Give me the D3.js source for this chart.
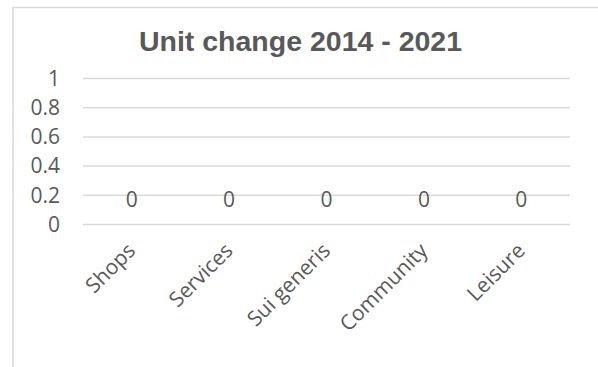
<!DOCTYPE html>
<html>
<head>
<meta charset="utf-8">
<script src="https://cdn.jsdelivr.net/npm/d3@7"></script>
<style>
  html, body { margin: 0; padding: 0; background: #fff; }
  svg { display: block; }
</style>
</head>
<body>
<svg id="chart" width="598" height="367"></svg>
<script>
// Categories and their unit change values
const categories = ["Shops", "Services", "Sui generis", "Community", "Leisure"];
const unitChange = [0, 0, 0, 0, 0];
const yTicks = [0, 0.2, 0.4, 0.6, 0.8, 1];
const chartTitle = "Unit change 2014 - 2021";

const W = 598, H = 367;
const margin = { left: 83, right: 28, top: 78, bottom: 143 };
const textColor = "#595959";
const gridColor = "#d9d9d9";
const bodyFont = "'Open Sans', sans-serif";
const bodySize = 21;

const svg = d3.select("#chart");

// Chart area frame (continues past the right and bottom edges)
svg.append("rect")
  .attr("x", 13).attr("y", 7.5)
  .attr("width", W + 20).attr("height", H + 20)
  .attr("fill", "none")
  .attr("stroke", gridColor)
  .attr("stroke-width", 1.5);

// Title
svg.append("text")
  .attr("x", 300.5).attr("y", 51)
  .attr("text-anchor", "middle")
  .attr("font-family", "'Liberation Sans', Arial, sans-serif")
  .attr("font-weight", "bold")
  .attr("font-size", 28.5)
  .attr("fill", textColor)
  .text(chartTitle);

const x = d3.scaleBand()
  .domain(categories)
  .range([margin.left, W - margin.right]);

const y = d3.scaleLinear()
  .domain([0, 1])
  .range([H - margin.bottom, margin.top]);

// Horizontal gridlines with value labels on the left
const yAxis = d3.axisLeft(y)
  .tickValues(yTicks)
  .tickFormat(d3.format("~g"))
  .tickSize(-(W - margin.right - margin.left))
  .tickPadding(23);

const gy = svg.append("g")
  .attr("transform", `translate(${margin.left},0)`)
  .call(yAxis);
gy.select(".domain").remove();
gy.selectAll(".tick line")
  .attr("stroke", gridColor)
  .attr("stroke-width", 1.5);
gy.selectAll(".tick text")
  .attr("fill", textColor)
  .attr("font-family", bodyFont)
  .attr("font-size", bodySize)
  .attr("dy", "0.35em");

// Category labels, rotated
const xAxis = d3.axisBottom(x).tickSize(0).tickPadding(0);
const gx = svg.append("g")
  .attr("transform", `translate(0,${y(0)})`)
  .call(xAxis);
gx.select(".domain").remove();
gx.selectAll(".tick text")
  .attr("fill", textColor)
  .attr("font-family", bodyFont)
  .attr("font-size", bodySize)
  .attr("text-anchor", "end")
  .attr("dy", null)
  .attr("y", 0)
  .attr("transform", "translate(5,28) rotate(-45)");

// Value labels placed above each category's value
svg.append("g")
  .selectAll("text")
  .data(categories.map((c, i) => ({ c, v: unitChange[i] })))
  .join("text")
  .attr("x", d => x(d.c) + x.bandwidth() / 2)
  .attr("y", d => y(d.v) - 17)
  .attr("text-anchor", "middle")
  .attr("fill", textColor)
  .attr("font-family", bodyFont)
  .attr("font-size", bodySize)
  .text(d => d3.format("~g")(d.v));
</script>
</body>
</html>
